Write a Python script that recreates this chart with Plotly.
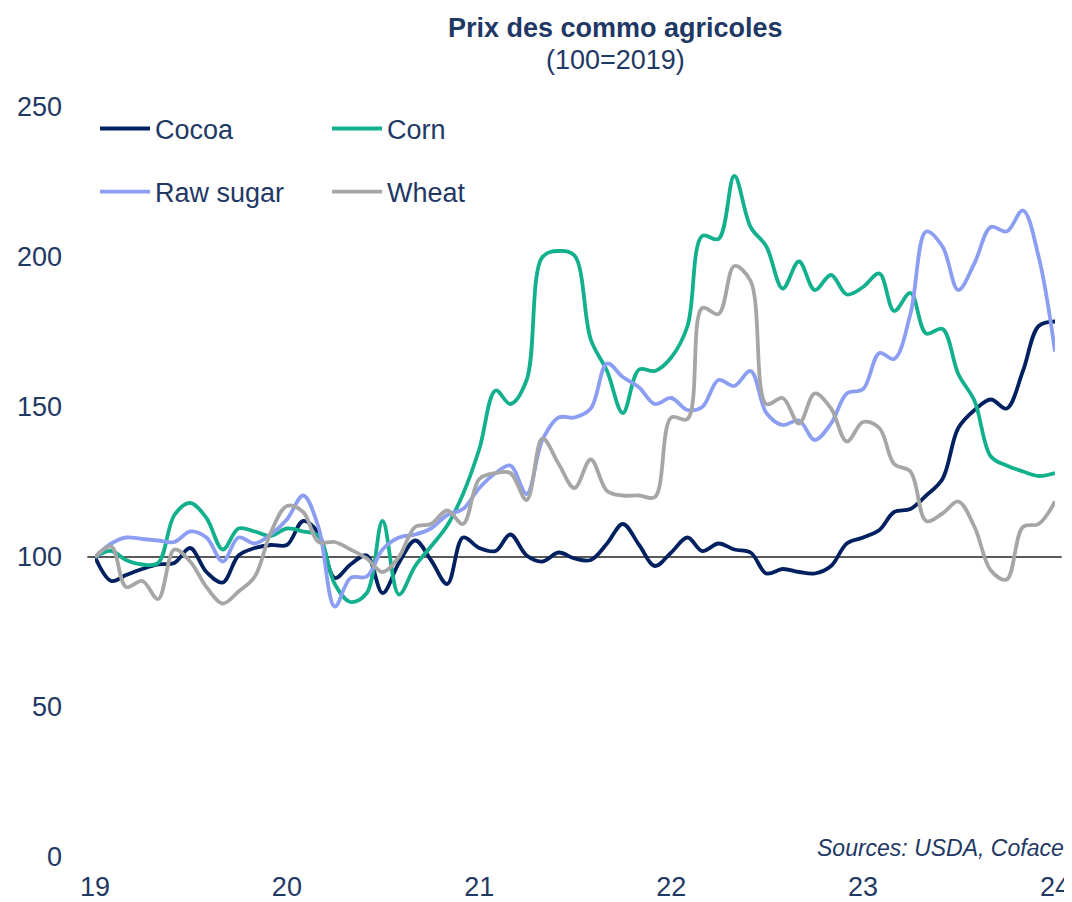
import pandas as pd
import plotly.graph_objects as go

# monthly index, Jan 2019 .. Jan 2024 (100 = 2019)
months = pd.date_range("2019-01-01", periods=61, freq="MS")

cocoa = [100, 92, 94, 96, 97.5, 98, 103, 95, 91.5, 100.5, 103, 104,
         104, 112, 108, 93, 97.5, 100.5, 88, 98, 105.5, 99, 91, 106.5,
         103, 102, 107.5, 100.5, 98.5, 101.5, 99.5, 99, 104.5, 111, 104, 97,
         101.5, 106.5, 102, 104.5, 102.5, 101.5, 94.5, 96, 95, 94.5, 97, 104.5,
         106.5, 109, 115, 116, 120.5, 126, 143, 149, 152.5, 149.5, 162, 177,
         178.5]
corn = [100, 102, 99, 97.5, 98, 114, 118, 113, 102.5, 109.5, 108.5, 107,
        109.5, 108.5, 107, 91, 85, 88, 112, 87.5, 97, 103.5, 110.5, 121,
        136, 155.5, 151, 159, 200, 202, 200.5, 172.5, 162, 148, 162.5, 162,
        166.5, 177, 207, 206, 227, 210, 203.5, 189.5, 198.5, 189, 194, 187.5,
        190, 194.5, 182, 188, 174.5, 176, 161, 152, 133.5, 130.5, 128.5, 127,
        128]
raw_sugar = [100, 104.5, 106.5, 106, 105.5, 105, 108.5, 106.5, 98.5, 106.5, 104.5, 107.5,
             112.5, 120.5, 110, 83.5, 93, 93.5, 102.5, 106.5, 107.5, 109.5, 114, 116,
             123, 128, 130.5, 121, 139, 146.5, 146.5, 149.5, 164.5, 160, 156.5, 151,
             153, 149, 150, 159, 157, 162, 148, 144, 145.5, 139, 144.5, 154.5,
             156, 168, 166, 181, 208.5, 203.5, 189, 198, 210, 208.5, 215.5, 200,
             168.5]
wheat = [100, 103.5, 90, 92, 86, 102.5, 98.5, 90, 84.5, 88.5, 93.5, 108,
         117, 115, 105, 105, 102.5, 99.5, 95, 100, 110, 111, 115.5, 111,
         126, 128, 128, 119, 139.5, 131, 123, 132.5, 122, 120.5, 120.5, 120,
         146.5, 146, 183, 181, 197, 192, 151, 153, 144.5, 154.5, 149.5, 138.5,
         145, 143, 131, 128.5, 112, 114.5, 118.5, 110, 95.5, 92.5, 110, 111,
         118.5]

series = [
    ("Cocoa", cocoa, "#002060", "legend"),
    ("Corn", corn, "#12B08C", "legend"),
    ("Raw sugar", raw_sugar, "#8C9EF2", "legend2"),
    ("Wheat", wheat, "#A6A6A6", "legend2"),
]

TEXT = "#1F3864"
FONT = "Liberation Sans, Arial, sans-serif"

fig = go.Figure()
for name, vals, color, leg in series:
    fig.add_trace(go.Scatter(
        x=months, y=vals, name=name, mode="lines",
        line=dict(color=color, width=3.8, shape="spline", smoothing=1),
        legend=leg,
    ))

# base line at 100
fig.add_shape(type="line", xref="paper", yref="y", x0=-0.008, x1=1.007, y0=100, y1=100,
              line=dict(color="#595959", width=2), layer="below")

legend_common = dict(
    orientation="h", xanchor="left", yanchor="middle", x=0.0,
    font=dict(size=27, color=TEXT, family=FONT),
    bgcolor="rgba(0,0,0,0)", entrywidth=167, entrywidthmode="pixels",
    itemwidth=50, traceorder="normal",
)

# the page body has an 8px margin, so the figure is 8px smaller than the window
fig.update_layout(
    width=1064, height=894,
    margin=dict(l=87, r=17, t=99, b=45),
    plot_bgcolor="white", paper_bgcolor="white",
    font=dict(family=FONT, color=TEXT, size=27),
    showlegend=True,
    legend=dict(legend_common, y=0.9707),
    legend2=dict(legend_common, y=0.8867),
    xaxis=dict(
        range=[months[0], months[-1]],
        tickvals=months[::12], tickformat="%y",
        showgrid=False, zeroline=False, showline=False, ticks="",
        ticklabelstandoff=11, automargin=False,
        tickfont=dict(size=27, color=TEXT),
    ),
    yaxis=dict(
        range=[0, 250], tickvals=[0, 50, 100, 150, 200, 250],
        showgrid=False, zeroline=False, showline=False, ticks="",
        ticklabelstandoff=32, automargin=False,
        tickfont=dict(size=27, color=TEXT),
    ),
    annotations=[
        dict(text="<b>Prix des commo agricoles</b>", xref="paper", yref="paper",
             x=0.5427, y=1.105, xanchor="center", yanchor="middle", showarrow=False,
             font=dict(size=27, color=TEXT)),
        dict(text="(100=2019)", xref="paper", yref="paper",
             x=0.5427, y=1.0627, xanchor="center", yanchor="middle", showarrow=False,
             font=dict(size=27, color=TEXT)),
        dict(text="<i>Sources: USDA, Coface</i>", xref="paper", yref="paper",
             x=1.0115, y=0.012, xanchor="right", yanchor="middle", showarrow=False,
             font=dict(size=23, color=TEXT)),
    ],
)

fig.write_html("out.html")
